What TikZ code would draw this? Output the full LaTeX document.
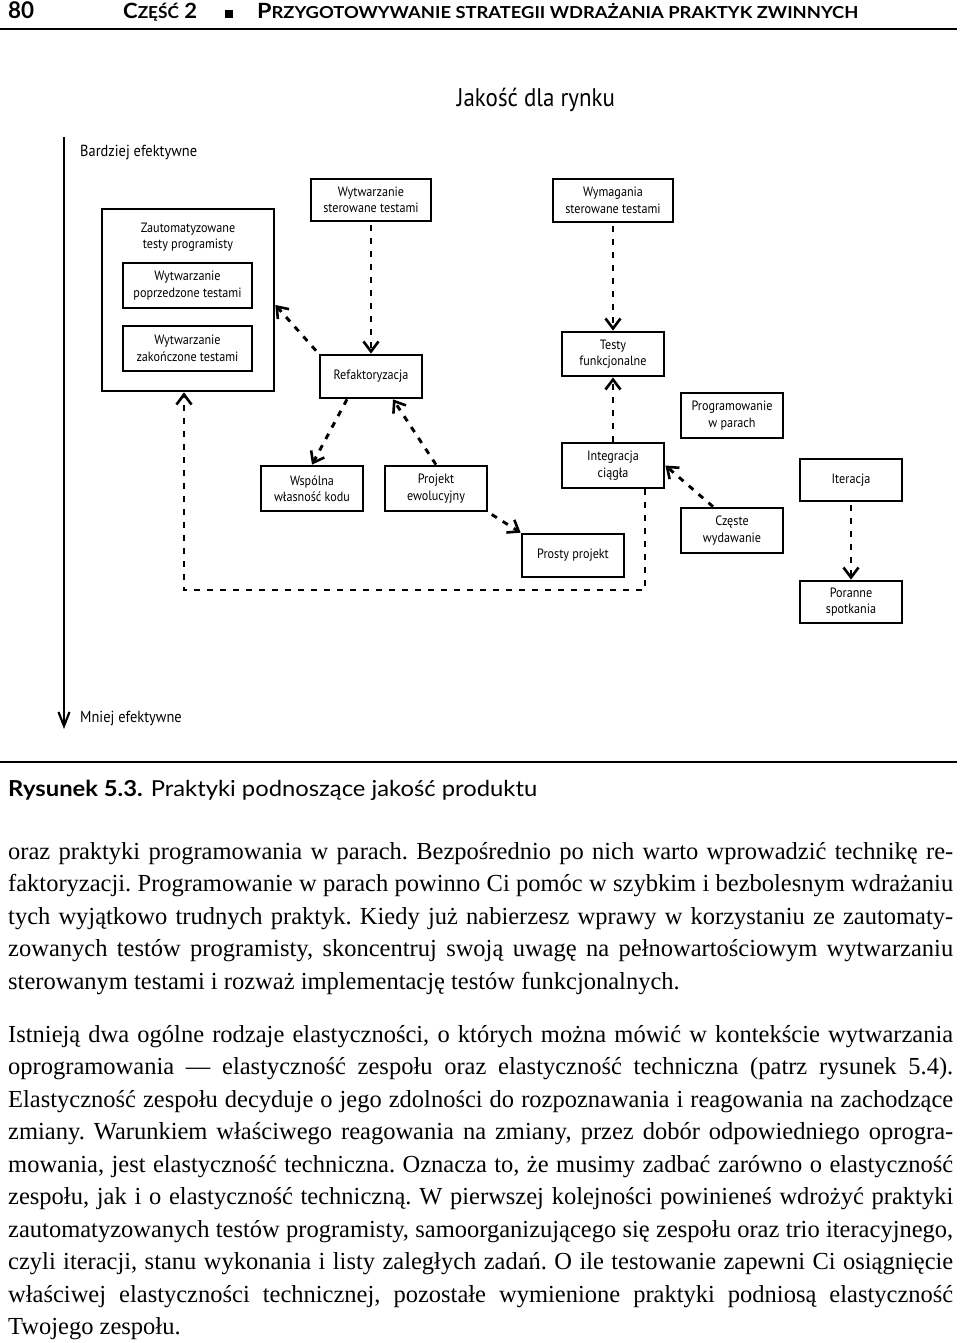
\documentclass[tikz,border=0pt]{standalone}
\usepackage{fontspec}
\usepackage{graphicx}
\setmainfont{Liberation Serif}
\newfontfamily\schemat[FakeStretch=0.9]{PT Sans}
\newfontfamily\gill{Lato}
\usetikzlibrary{arrows.meta,positioning}

\newcommand{\odstepy}{\frenchspacing\spaceskip=0.25em plus 0.5em minus 0.12em\relax}
\tikzset{praktyka/.style={draw,line width=2.7pt,minimum width=102pt,minimum height=44pt,
        align=center,inner sep=2pt,font=\schemat\fontsize{13.5}{16.5}\selectfont},
    szeroka/.style={praktyka,minimum width=120pt,minimum height=42pt},
    zaleznosc/.style={line width=2.9pt,dash pattern=on 6pt off 7pt,
        -{Straight Barb[length=10pt,width=15pt,line width=2.6pt]}},
    opis/.style={font=\schemat\fontsize{16}{18}\selectfont,anchor=base west,inner sep=0pt},
    wiersz/.style={anchor=base west,inner sep=0pt,text width=945pt,align=left,
        font=\fontsize{24.5}{32.5}\selectfont,execute at begin node=\odstepy},
    naglowek/.style={anchor=base west,inner sep=0pt,font=\gill\bfseries\fontsize{21}{21}\selectfont},
}
\newcommand{\kap}[2]{#1{\fontsize{16.5}{16.5}\selectfont #2}}
\newcommand{\linia}[1]{\makebox[\linewidth][s]{#1}}

\begin{document}
\begin{tikzpicture}[x=1pt,y=-1pt]
\useasboundingbox[fill=white] (0,0) rectangle (960,1343);

% naglowek strony
\node[naglowek,font=\gill\bfseries\fontsize{23}{23}\selectfont] (strona) at (8,19) {\resizebox{26pt}{\height}{80}};
\node[naglowek] (czesc) at (123,19) {\resizebox{74pt}{\height}{\kap{C}{ZĘŚĆ} 2}};
\node[inner sep=0pt] (kwadrat) at (228.5,14) {\rule{8pt}{8pt}};
\node[naglowek] (tytulCzesci) at (257,19)
    {\resizebox{601pt}{\height}{\kap{P}{RZYGOTOWYWANIE STRATEGII WDRAŻANIA PRAKTYK ZWINNYCH}}};
\draw[line width=1.8pt] (0,29) -- (957,29);

% schemat
\node[anchor=base,inner sep=0pt,font=\schemat\fontsize{25.5}{25.5}\selectfont] (tytul) at (536,107) {Jakość dla rynku};

\coordinate (osGora) at (64,137);
\coordinate (osDol) at (64,729);
\draw[line width=2.2pt,-{Straight Barb[length=14pt,width=11pt]}] (osGora) -- (osDol);
\node[opis] (lepiej) at (80,157) {Bardziej efektywne};
\node[opis] (gorzej) at (80,722) {Mniej efektywne};

\node[praktyka,minimum width=172pt,minimum height=182pt] (zautom) at (188,300) {};
\node[font=\schemat\fontsize{13.5}{16.5}\selectfont,align=center] (zautomOpis) at (188,237)
    {Zautomatyzowane\\testy programisty};
\node[praktyka,minimum width=129pt,minimum height=45pt] (poprzedzone) at (187.5,285.5)
    {Wytwarzanie\\poprzedzone testami};
\node[praktyka,minimum width=129pt,minimum height=45pt] (zakonczone) at (187.5,348.5)
    {Wytwarzanie\\zakończone testami};
\node[szeroka] (tdd) at (371,200) {Wytwarzanie\\sterowane testami};
\node[praktyka,minimum height=43pt] (refaktoryzacja) at (371,376.5) {Refaktoryzacja};
\node[szeroka,minimum height=43pt] (atdd) at (613,200.5) {Wymagania\\sterowane testami};
\node[praktyka] (funkcjonalne) at (613,354) {Testy\\funkcjonalne};
\node[praktyka,minimum height=45pt] (wspolna) at (312,488.5) {Wspólna\\własność kodu};
\node[praktyka,minimum height=45pt] (ewolucyjny) at (436,488.5) {Projekt\\ewolucyjny};
\node[praktyka,minimum height=45pt] (pary) at (732,415.5) {Programowanie\\w parach};
\node[praktyka,minimum height=45pt] (integracja) at (613,465.5) {Integracja\\ciągła};
\node[praktyka,minimum height=42pt] (iteracja) at (851,480) {Iteracja};
\node[praktyka,minimum height=45pt] (wydawanie) at (732,530.5) {Częste\\wydawanie};
\node[praktyka,minimum height=43pt] (prosty) at (573,555.5) {Prosty projekt};
\node[praktyka,minimum height=42pt] (poranne) at (851,602) {Poranne\\spotkania};

\draw[zaleznosc,shorten <=3pt] (tdd) -- (refaktoryzacja);
\draw[zaleznosc,shorten <=4pt] (refaktoryzacja.north west) -- ([yshift=-5pt]zautom.east);
\draw[zaleznosc] ([xshift=-24pt]refaktoryzacja.south) -- (wspolna.north);
\draw[zaleznosc] (ewolucyjny.north) -- ([xshift=22pt]refaktoryzacja.south);
\draw[zaleznosc,shorten <=4pt] (ewolucyjny.south east) -- (prosty.north west);
\draw[zaleznosc,shorten <=3pt] (atdd) -- (funkcjonalne);
\draw[zaleznosc] (integracja) -- (funkcjonalne);
\draw[zaleznosc] ([xshift=-19pt]wydawanie.north) -- (integracja.east);
\draw[zaleznosc,shorten <=3pt] (iteracja) -- (poranne);
\coordinate (zakret) at (400,590);
\draw[zaleznosc] ([xshift=32pt]integracja.south) |- (zakret) -| ([xshift=-4pt]zautom.south);

% podpis i tekst
\draw[line width=1.5pt] (0,762) -- (957,762);
\node[anchor=base west,inner sep=0pt,font=\gill\fontsize{22}{22}\selectfont] (podpis) at (8,796)
    {\resizebox{529pt}{\height}{\textbf{Rysunek 5.3.} Praktyki podnoszące jakość produktu}};

\node[wiersz] (akapit1) at (8,859) {%
\linia{oraz praktyki programowania w parach. Bezpośrednio po nich warto wprowadzić technikę re-}\\
\linia{faktoryzacji. Programowanie w parach powinno Ci pomóc w szybkim i bezbolesnym wdrażaniu}\\
\linia{tych wyjątkowo trudnych praktyk. Kiedy już nabierzesz wprawy w korzystaniu ze zautomaty-}\\
\linia{zowanych testów programisty, skoncentruj swoją uwagę na pełnowartościowym wytwarzaniu}\\
sterowanym testami i rozważ implementację testów funkcjonalnych.};

\node[wiersz] (akapit2) at (8,1042) {%
\linia{Istnieją dwa ogólne rodzaje elastyczności, o których można mówić w kontekście wytwarzania}\\
\linia{oprogramowania — elastyczność zespołu oraz elastyczność techniczna (patrz rysunek 5.4).}\\
\linia{Elastyczność zespołu decyduje o jego zdolności do rozpoznawania i reagowania na zachodzące}\\
\linia{zmiany. Warunkiem właściwego reagowania na zmiany, przez dobór odpowiedniego oprogra-}\\
\linia{mowania, jest elastyczność techniczna. Oznacza to, że musimy zadbać zarówno o elastyczność}\\
\linia{zespołu, jak i o elastyczność techniczną. W pierwszej kolejności powinieneś wdrożyć praktyki}\\
\linia{zautomatyzowanych testów programisty, samoorganizującego się zespołu oraz trio iteracyjnego,}\\
\linia{czyli iteracji, stanu wykonania i listy zaległych zadań. O ile testowanie zapewni Ci osiągnięcie}\\
\linia{właściwej elastyczności technicznej, pozostałe wymienione praktyki podniosą elastyczność}\\
Twojego zespołu.};
\end{tikzpicture}
\end{document}
